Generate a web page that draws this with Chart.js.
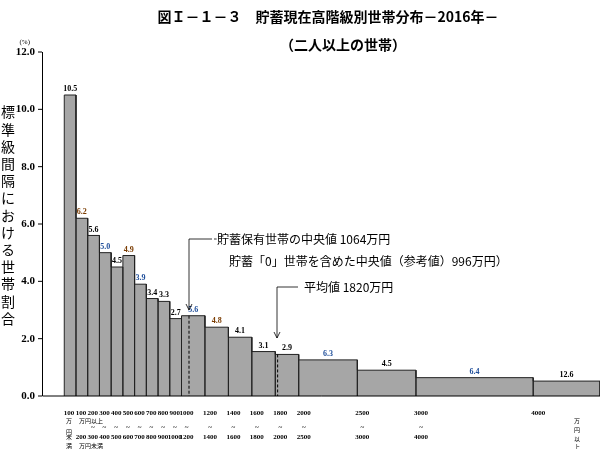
<!DOCTYPE html><html><head><meta charset="utf-8">
<script src="https://cdn.jsdelivr.net/npm/chart.js@4"></script>
<style>html,body{margin:0;background:#fff}#w{width:600px;height:449px}</style></head><body><div id="w"><canvas id="c"></canvas></div>
<script>
const binEdges=[0,100,200,300,400,500,600,700,800,900,1000,1200,1400,1600,1800,2000,2500,3000,4000,4570];
const shares=[10.5,6.2,5.6,5.0,4.5,4.9,3.9,3.4,3.3,2.7,5.6,4.8,4.1,3.1,2.9,6.3,4.5,6.4,12.6];
const heights=[10.5,6.2,5.6,5.0,4.5,4.9,3.9,3.4,3.3,2.7,2.8,2.4,2.05,1.55,1.45,1.26,0.9,0.64,0.52];
const labelColors=['#000','#7a3b00','#000','#1f4e9a','#000','#7a3b00','#1f4e9a','#000','#000','#000','#1f4e9a','#7a3b00','#000','#000','#000','#1f4e9a','#000','#1f4e9a','#000'];
const yTicks=[0,2,4,6,8,10,12];
const topLabels=['100','100','200','300','400','500','600','700','800','900','1000','1200','1400','1600','1800','2000','2500','3000','4000'];
const botLabels=['','200','300','400','500','600','700','800','900','1000','1200','1400','1600','1800','2000','2500','3000','4000',''];
const medianSaving=1064, medianAll=996, meanSaving=1820;
const pts=[];
for(let i=0;i<heights.length;i++){pts.push({x:binEdges[i],y:0},{x:binEdges[i],y:heights[i]},{x:binEdges[i+1],y:heights[i]},{x:binEdges[i+1],y:0});}
const F='"Liberation Serif","DejaVu Serif",serif';
const J='"Noto Sans CJK JP",sans-serif';
const deco={id:'deco',afterDatasetsDraw(ch){
 const c=ch.ctx,xs=ch.scales.x,ys=ch.scales.y;const X=v=>xs.getPixelForValue(v),Y=v=>ys.getPixelForValue(v);
 c.save();
 c.strokeStyle='#000';c.lineWidth=1;
 c.beginPath();c.moveTo(X(-190)+0.5,Y(12));c.lineTo(X(-190)+0.5,Y(0));c.lineTo(X(4570),Y(0));c.stroke();
 c.fillStyle='#000';c.font='bold 11px '+F;c.textAlign='right';c.textBaseline='middle';
 yTicks.forEach(t=>{c.beginPath();c.moveTo(X(-190),Y(t));c.lineTo(X(-190)-4,Y(t));c.stroke();c.fillText(t.toFixed(1),35,Y(t));});
 c.font='7px '+F;c.fillText('(%)',30,Y(12)-10);
 // y title
 c.font='14px '+J;c.textAlign='center';
 '標準級間隔における世帯割合'.split('').forEach((ch_,i)=>c.fillText(ch_,8,112+i*17.2));
 // value labels
 c.font='bold 8px '+F;c.textBaseline='bottom';
 for(let i=0;i<heights.length;i++){c.fillStyle=labelColors[i];c.fillText(shares[i].toFixed(1),(X(binEdges[i])+X(binEdges[i+1]))/2,Y(heights[i])-2);}
 // medians
 c.strokeStyle='#000';c.setLineDash([3,2]);
 [[medianSaving,2.8],[meanSaving,1.45]].forEach(([v,h])=>{c.beginPath();c.moveTo(X(v),Y(h));c.lineTo(X(v),Y(0));c.stroke();});
 c.setLineDash([]);
 function arrow(x,y1,y2){c.beginPath();c.moveTo(x,y1);c.lineTo(x,y2);c.stroke();c.beginPath();c.moveTo(x-3,y2-6);c.lineTo(x,y2);c.lineTo(x+3,y2-6);c.stroke();}
 c.lineWidth=0.8;
 c.beginPath();c.moveTo(X(medianSaving)+25,239);c.lineTo(X(1300),239);c.stroke();
 c.beginPath();c.moveTo(X(1300),239);c.lineTo(X(1300),239);c.stroke();
 arrow(189,239,310);c.beginPath();c.moveTo(189,239);c.lineTo(212,239);c.stroke();
 arrow(277,287,338);c.beginPath();c.moveTo(277,287);c.lineTo(298,287);c.stroke();
 c.fillStyle='#000';c.textAlign='left';c.textBaseline='middle';c.font='12px '+J;
 c.fillText('貯蓄保有世帯の中央値 1064万円',217,239);
 c.fillText('貯蓄「0」世帯を含めた中央値（参考値）996万円）',229,261);
 c.fillText('平均値 1820万円',304,287);
 // x labels
 c.font='bold 7px '+F;c.textAlign='center';
 const ax=[0,100,200,300,400,500,600,700,800,900,1000,1200,1400,1600,1800,2000,2500,3000,4000];
 ax.forEach((v,i)=>{const px=X(v)+5;c.fillText(topLabels[i],i==0?69:px,413);
   if(i>=2&&i<18)c.fillText('~',px,427);
   if(botLabels[i])c.fillText(botLabels[i],i==0?69:X(v)+5,437);});
 c.font='6px '+J;
 c.fillText('万',69,421);c.fillText('円',69,432);c.fillText('未',69,437);c.fillText('満',69,446);
 c.fillText('万円以上',91,421);c.fillText('万円未満',91,446);
 c.fillText('万',577,421);c.fillText('円',577,430);c.fillText('以',577,439);c.fillText('上',577,447);
 // title
 c.font='bold 14px '+J;c.textAlign='center';
 c.fillText('図Ｉ－１－３　貯蓄現在高階級別世帯分布－2016年－',328,17);
 c.fillText('（二人以上の世帯）',343,45);
 c.restore();}};
new Chart(document.getElementById('c'),{type:'line',
 data:{datasets:[{data:pts,borderColor:'#222',borderWidth:1,backgroundColor:'#a6a6a6',fill:'origin',pointRadius:0,tension:0}]},
 options:{responsive:true,maintainAspectRatio:false,animation:false,
  layout:{padding:{left:42,top:52,bottom:53,right:0}},
  plugins:{legend:{display:false},tooltip:{enabled:false}},
  scales:{x:{type:'linear',min:-190,max:4570,display:false},y:{min:0,max:12,display:false}}},
 plugins:[deco]});
</script></body></html>
